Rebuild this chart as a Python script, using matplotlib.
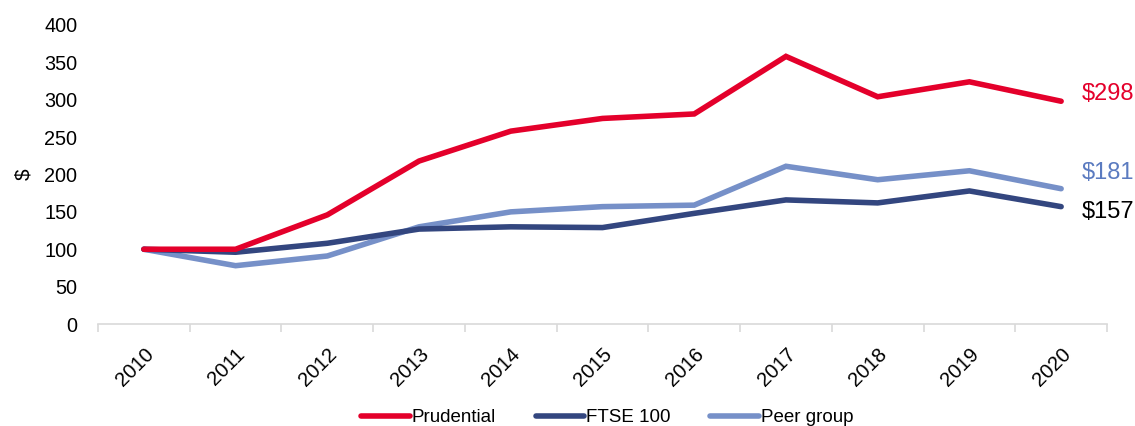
import matplotlib
matplotlib.use("Agg")
import matplotlib.pyplot as plt
import numpy as np

plt.rcParams['font.family'] = ['Liberation Sans', 'DejaVu Sans']

years = ['2010', '2011', '2012', '2013', '2014', '2015', '2016', '2017', '2018', '2019', '2020']
prudential = [100, 100, 146, 218, 258, 275, 281, 358, 304, 324, 298]
ftse = [100, 96, 108, 127, 130, 129, 148, 166, 162, 178, 157]
peer = [100, 78, 91, 130, 150, 157, 159, 211, 193, 205, 181]
end_labels = ['$298', '$157', '$181']

c_pru = '#E4002B'
c_ftse = '#33467F'
c_peer = '#7690C8'

fig = plt.figure(figsize=(11.35, 4.26), dpi=100)
ax = fig.add_axes([98/1135, 1-324/426, (1107-98)/1135, (324-25)/426])

x = np.arange(len(years))
lw = 4
ax.plot(x, prudential, color=c_pru, lw=lw, solid_capstyle='round', solid_joinstyle='miter', label='Prudential', zorder=3)
ax.plot(x, ftse, color=c_ftse, lw=lw, solid_capstyle='round', solid_joinstyle='miter', label='FTSE 100', zorder=2)
ax.plot(x, peer, color=c_peer, lw=lw, solid_capstyle='round', solid_joinstyle='miter', label='Peer group', zorder=1)

ax.set_xlim(-0.5, len(years) - 0.5)
ax.set_ylim(0, 400)
ax.set_yticks(np.arange(0, 401, 50))
ax.tick_params(axis='y', length=0, labelsize=14.3, pad=15)
ax.set_xticks(x)
ax.set_xticklabels(years, rotation=45, ha='right', rotation_mode='anchor', fontsize=14.6)
ax.tick_params(axis='x', which='major', length=0, pad=15)
ax.set_xticks(np.arange(-0.5, len(years), 1), minor=True)
ax.tick_params(axis='x', which='minor', length=6, color='#D9D9D9', width=1.2)

for s in ['top', 'right', 'left']:
    ax.spines[s].set_visible(False)
ax.spines['bottom'].set_color('#D9D9D9')
ax.spines['bottom'].set_linewidth(1.2)

ax.set_ylabel('$', fontsize=15, rotation=90, labelpad=8)

xl = len(years) - 1 + 0.23
ax.text(xl, prudential[-1] + 10, end_labels[0], color=c_pru, fontsize=17, va='center', ha='left')
ax.text(xl, peer[-1] + 21, end_labels[2], color='#5B7BC0', fontsize=17, va='center', ha='left')
ax.text(xl, ftse[-1] - 7, end_labels[1], color='black', fontsize=17, va='center', ha='left')

leg = fig.legend(loc='lower center', bbox_to_anchor=(0.535, -0.04), ncol=3, frameon=False,
                 fontsize=13.5, handlelength=2.6, handletextpad=0.1, columnspacing=2.1)

fig.savefig('out.png', dpi=100)
